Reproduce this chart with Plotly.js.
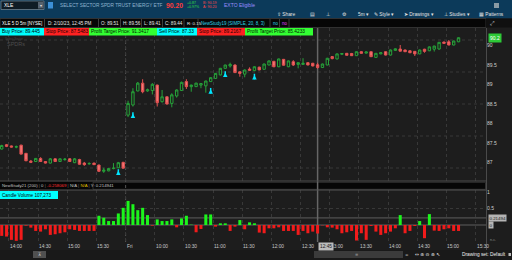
<!DOCTYPE html>
<html><head><meta charset="utf-8">
<script src="https://cdn.plot.ly/plotly-3.0.1.min.js"></script>
<style>html,body{margin:0;padding:0;background:#1d1d1d;overflow:hidden}#chart{width:512px;height:260px}</style>
</head><body><div id="chart"></div>
<script>
// ---- data (5-minute bars, Thu 13:50 -> Fri 15:10) ----
const barOpen = [87.35,87.46,87.43,87.40,87.45,87.24,87.04,87.03,87.11,87.03,86.99,87.10,87.03,87.08,87.10,87.00,87.08,86.99,86.97,86.99,86.94,86.78,86.79,86.85,86.87,87.01,
88.22,88.48,88.84,89.04,88.84,88.85,88.99,88.565,88.69,88.52,88.71,88.85,89.08,88.95,88.95,88.99,88.97,89.08,89.16,89.25,89.42,89.48,89.505,89.33,89.27,89.40,89.36,89.45,89.395,89.505,89.60,89.46,89.65,89.46,89.59,89.52,89.52,89.565,89.55,89.51,89.44,89.505,89.72,89.66,89.78,89.805,89.80,89.744,89.846,89.81,89.846,89.70,89.79,89.846,89.76,89.88,89.915,89.89,89.87,89.855,89.79,89.91,89.87,89.91,89.915,90.095,90.10,90.018,90.10];
const barHigh = [87.46,87.48,87.44,87.44,87.46,87.25,87.07,87.12,87.14,87.04,87.12,87.11,87.11,87.12,87.12,87.12,87.10,87.02,87.01,87.00,86.95,86.87,86.86,86.99,87.02,87.02,
88.59,88.91,89.07,89.14,88.90,89.04,89.00,88.865,88.70,88.78,88.88,89.08,89.14,89.00,89.05,89.04,89.10,89.19,89.30,89.43,89.51,89.565,89.52,89.34,89.39,89.445,89.47,89.46,89.54,89.62,89.61,89.67,89.66,89.62,89.63,89.57,89.68,89.57,89.56,89.56,89.54,89.69,89.735,89.80,89.81,89.81,89.815,89.85,89.86,89.85,89.85,89.81,89.83,89.85,89.90,89.93,90.018,89.90,89.88,89.86,89.90,89.92,89.98,90.00,90.09,90.10,90.146,90.13,90.21];
const barLow = [87.34,87.40,87.39,87.37,87.21,87.04,86.99,87.02,87.02,86.98,86.98,87.02,87.02,87.05,87.02,86.99,86.95,86.92,86.95,86.94,86.76,86.74,86.78,86.83,86.86,86.85,
88.17,88.44,88.83,88.78,88.82,88.75,88.44,88.54,88.49,88.42,88.67,88.84,88.89,88.82,88.94,88.91,88.795,89.07,89.15,89.24,89.41,89.44,89.30,89.205,89.19,89.35,89.35,89.37,89.39,89.50,89.45,89.45,89.49,89.45,89.48,89.42,89.51,89.50,89.47,89.41,89.43,89.50,89.65,89.65,89.76,89.75,89.74,89.74,89.80,89.80,89.71,89.69,89.78,89.75,89.75,89.87,89.855,89.84,89.81,89.736,89.78,89.82,89.86,89.85,89.90,90.05,90.01,90.01,90.09];
const barClose = [87.44,87.42,87.40,87.41,87.22,87.05,87.01,87.11,87.03,86.99,87.10,87.03,87.10,87.09,87.03,87.10,86.96,86.95,86.98,86.95,86.78,86.81,86.85,86.86,87.00,86.86,
88.52,88.82,89.04,88.82,88.87,89.01,88.54,88.69,88.505,88.74,88.865,89.06,88.95,88.99,89.04,89.03,89.095,89.18,89.29,89.42,89.505,89.52,89.31,89.29,89.377,89.37,89.46,89.38,89.53,89.61,89.46,89.66,89.50,89.61,89.505,89.565,89.55,89.505,89.48,89.44,89.53,89.677,89.67,89.79,89.80,89.754,89.744,89.846,89.805,89.84,89.718,89.805,89.82,89.76,89.89,89.92,89.86,89.846,89.82,89.79,89.89,89.855,89.97,89.99,90.087,90.06,90.018,90.12,90.205];
const studyValues = [-0.33,-0.35,-0.45,-0.48,-0.45,-0.02,-0.08,-0.18,-0.20,-0.13,-0.30,-0.28,-0.25,-0.22,-0.13,-0.15,-0.18,-0.18,-0.18,-0.18,
0.28,0.22,0.12,0.12,0.35,0.52,0.73,0.63,0.45,0.52,0.30,-0.02,0.17,0.12,0.12,0.17,-0.07,0.20,0.28,0.01,
-0.22,-0.12,0.32,0.32,-0.05,0.05,0.05,-0.18,-0.05,0.15,-0.13,0.08,0.05,-0.23,-0.25,-0.10,-0.10,-0.07,-0.18,-0.18,
-0.18,-0.30,-0.18,-0.25,-0.20,-0.258069,-0.01,-0.07,-0.08,-0.13,-0.25,-0.22,-0.18,-0.47,-0.25,-0.45,-0.03,-0.20,-0.30,-0.25,
-0.20,-0.10,0.30,-0.25,-0.18,-0.03,0.12,-0.40,0.33,-0.17,-0.18,-0.13,-0.10,-0.18,-0.18];
const studyLevel = 0.214941;
const signalBars = [24,27,43,46,52];
const signalPrice = [86.80,88.26,88.885,89.313,89.249];
const timeTickBars = [2,8,14,20,26,32,38,44,50,56,62,68,74,80,86,92,98];
const timeTickLabels = ['14:00','14:30','15:00','15:30','Fri','10:00','10:30','11:00','11:30','12:00','12:30','13:00','13:30','14:00','14:30','15:00','15:30'];
const priceTicks = [87,87.5,88,88.5,89,89.5,90];
const priceTickLabels = ['87','87.5','88','88.5','89','89.5','90'];
const studyTicks = [0.5,1];
const studyTickLabels = ['0.5','1'];
const sessionBreakBar = 26;
const cursorBar = 65;
const cursorLabel = '12:45';

// ---- layout helpers ----
const W = 512, H = 260;
const F = "'Liberation Sans', Arial, sans-serif";
const FS = "'DejaVu Sans', sans-serif";
const idx = barClose.map((_, i) => i);
const A = [], S = [];
function T(x, y, s, size, color, extra) {
  A.push(Object.assign({xref:'paper', yref:'paper', x:x/W, y:1-y/H, text:s, showarrow:false,
    xanchor:'left', yanchor:'middle', borderpad:0, font:{family:F, size:size, color:color}}, extra || {}));
}
function R(x0, y0, x1, y1, fill, line, layer) {
  S.push({type:'rect', xref:'paper', yref:'paper', x0:x0/W, x1:x1/W, y0:1-y0/H, y1:1-y1/H,
    fillcolor:fill, line:{width:line ? 0.8 : 0, color:line || fill}, layer:layer || 'above'});
}
function L(x0, y0, x1, y1, color, w, dash, layer) {
  S.push({type:'line', xref:'paper', yref:'paper', x0:x0/W, x1:x1/W, y0:1-y0/H, y1:1-y1/H,
    line:{color:color, width:w || 1, dash:dash || 'solid'}, layer:layer || 'above'});
}
const small = 4.6;

// header (blue)
R(0, 0, 512, 18.5, '#0c3a5a', null, 'below');
R(1, 1, 44, 9.5, '#0f1c26', '#6d7f8c');
T(3, 5.3, 'XLE', 5, '#ffffff');
R(38, 2, 43.5, 8.5, '#56626e');
T(38.6, 5.3, '▾', 4, '#e0e0e0', {font:{family:FS, size:4, color:'#e0e0e0'}});
R(48, 2, 53, 8.5, '#3c8fd6');
T(59, 5.3, 'SELECT SECTOR SPDR TRUST ENERGY ETF', 4.75, '#8fb3cf');
T(165, 5.5, '<b>90.20</b>', 6.8, '#ff3b3b');
T(185.5, 3.2, '+0.87', 3.6, '#33dd44');
T(185.5, 7.4, '+0.97%', 3.6, '#33dd44');
T(201.5, 3.2, 'B: 90.19', 3.6, '#ff4848');
T(201.5, 7.4, 'A: 90.20', 3.6, '#ff4848');
T(223, 5.3, 'EXTO Eligible', 5, '#9b8dff');
R(494, 3, 499, 8, '#8a9aa4');
// toolbar
const tb = [[276,'⇪ Share'],[309,'▤'],[325,'⊥'],[341,'⚙'],[357,'5m ▾'],[373,'✎ Style ▾'],[403,'➤ Drawings ▾'],[443,'⊥ Studies ▾'],[478,'▦ Patterns']];
tb.forEach(t => T(t[0], 14.4, t[1], 4.8, '#e4e4e4'));

// info row
R(0, 18.5, 486, 27.5, '#060606', '#3a3a3a', 'below');
R(486, 18.5, 512, 27.5, '#101010', null, 'below');
T(489, 23, '⤢', 5.5, '#dddddd', {font:{family:FS, size:5.5, color:'#dddddd'}});
T(1, 23, 'XLE 5 D 5m [NYSE]', 4.5, '#ffffff');
[44.5, 98.5, 120.5, 141.5, 162.5, 184, 198].forEach(x => L(x, 19, x, 27, '#4a4a4a', 0.8));
const c = cursorBar;
T(47, 23, 'D: 2/10/23, 12:45 PM', small, '#e6e6e6');
T(100, 23, 'O: ' + barOpen[c].toFixed(2), small, '#e6e6e6');
T(122, 23, 'H: ' + barHigh[c].toFixed(2), small, '#e6e6e6');
T(143, 23, 'L: ' + barLow[c].toFixed(2), small, '#e6e6e6');
T(164, 23, 'C: ' + barClose[c].toFixed(2), small, '#e6e6e6');
T(185.5, 23, 'R: ' + (barHigh[c] - barLow[c]).toFixed(2), 4.4, '#e6e6e6');
T(199.5, 23, 'NewStudy19 (SIMPLE, 20, 8, 3)', 4.5, '#2bd4e6');
T(271.5, 23, 'no', 4.5, '#2bd4e6');
T(281, 23, 'no', 4.5, '#e040fb');
L(270, 19, 270, 27, '#4a4a4a', 0.8); L(279.5, 19, 279.5, 27, '#4a4a4a', 0.8); L(289, 19, 289, 27, '#4a4a4a', 0.8);

// label row
const boxes = [[0,44,'#00ffff','Buy Price: 89.445','#000'],[44,89,'#ff2222','Stop Price: 87.5483','#200000'],
  [89,157,'#33ff33','Profit Target Price: 91.3417','#002000'],[157,197,'#00ffff','Sell Price: 87.33','#000'],
  [197,245,'#ff2222','Stop Price: 89.2167','#200000'],[245,313,'#33ff33','Profit Target Price: 85.4233','#002000']];
boxes.forEach(b => { R(b[0], 28, b[1], 35.5, b[2]); T(b[0] + 1, 31.8, b[3], 4.8, b[4]); });

// watermark
T(4, 38.6, 'Select Sector', 3, '#4a4a4a');
T(6, 44, 'SPDRs', 5.5, '#4d4d4d');

// horizontal dashed grid (main)
[40, 72, 104, 136, 168].forEach(y => L(0, y, 486, y, '#383838', 1, 'dot', 'below'));

// panel borders
L(0, 181, 486, 181, '#4a4a4a', 1);
R(0, 181.5, 486, 190, '#060606', null, 'below');
R(93, 182.3, 485.5, 189.3, 'rgba(0,0,0,0)', '#3a3a3a', 'below');
L(0, 190, 486, 190, '#555555', 1);
L(486.5, 28, 486.5, 250, '#4a4a4a', 1);

// lower header (single line with coloured parts)
T(1, 185.8, 'NewStudy21 (200) <span style="color:#777">|</span> 0 <span style="color:#777">|</span> <span style="color:#ff3030">' +
  studyValues[c].toFixed(6) + '</span> <span style="color:#777">|</span> N/A <span style="color:#777">|</span> <span style="color:#e0c000">N/A</span> <span style="color:#777">|</span> Y: ' +
  studyLevel.toFixed(6), 4.3, '#c4c4c4');
R(0, 191, 58, 199, '#00ffff');
T(1, 195, 'Candle Volume 107,273', 4.6, '#000000');

// lower panel lines
S.push({type:'line', xref:'paper', yref:'y2', x0:0, x1:486/W, y0:0, y1:0, line:{color:'#5e5e5e', width:1}, layer:'below'});
S.push({type:'line', xref:'paper', yref:'y2', x0:0, x1:486/W, y0:studyLevel, y1:studyLevel, line:{color:'#5e5e5e', width:1}, layer:'below'});
S.push({type:'line', xref:'paper', yref:'y2', x0:0, x1:486/W, y0:0.5, y1:0.5, line:{color:'#383838', width:1, dash:'dot'}, layer:'below'});
A.push({xref:'paper', yref:'y2', x:487.5/W, y:studyLevel, text:studyLevel.toFixed(5), showarrow:false, xanchor:'left', yanchor:'middle',
  bgcolor:'#b4b4b4', borderpad:0.5, font:{family:F, size:4.4, color:'#1a1a1a'}});
A.push({xref:'paper', yref:'y2', x:487.5/W, y:0, text:'0', showarrow:false, xanchor:'left', yanchor:'middle',
  bgcolor:'#b4b4b4', borderpad:0.5, font:{family:F, size:4.4, color:'#1a1a1a'}});
T(489, 240, 'n.c.', 3.8, '#8a8a8a');

// session break & cursor
S.push({type:'line', xref:'x', yref:'paper', x0:sessionBreakBar - 0.5, x1:sessionBreakBar - 0.5, y0:1-242/H, y1:1-28/H, line:{color:'#555555', width:1, dash:'dot'}, layer:'below'});
S.push({type:'line', xref:'x', yref:'paper', x0:cursorBar, x1:cursorBar, y0:1-242/H, y1:1-28/H, line:{color:'#666666', width:1.5}, layer:'below'});

// last price label
A.push({xref:'paper', yref:'y', x:487.5/W, y:barClose[barClose.length-1], text:barClose[barClose.length-1].toFixed(1),
  showarrow:false, xanchor:'left', yanchor:'middle', bgcolor:'#2dc937', borderpad:1, font:{family:F, size:5, color:'#ffffff'}});

// time labels
timeTickBars.forEach((b, i) => A.push({xref:'x', yref:'paper', x:b - 0.5, y:1-246/H, text:timeTickLabels[i], showarrow:false,
  xanchor:'left', yanchor:'middle', borderpad:0, font:{family:F, size:4.8, color:'#c8c8c8'}}));
A.push({xref:'x', yref:'paper', x:cursorBar, y:1-246/H, text:cursorLabel, showarrow:false, xanchor:'left', yanchor:'middle',
  bgcolor:'#bcbcbc', borderpad:1, font:{family:F, size:4.8, color:'#1a1a1a'}});

// bottom bar
R(0, 250, 512, 260, '#191919', null, 'below');
R(33, 251, 46, 258, '#505050');
T(36.5, 254.5, '⊼', 4.5, '#dddddd', {font:{family:FS, size:4.5, color:'#dddddd'}});
R(314, 251, 403, 258, '#3b3b3b');
T(354, 254.5, '≡', 4, '#8a8a8a', {font:{family:FS, size:4, color:'#8a8a8a'}});
T(404, 254.5, '◂▸', 3.5, '#999999', {font:{family:FS, size:3.5, color:'#999999'}});
T(414, 254.5, '↔ ⊕ ⊖ ⊕ ↖', 4.6, '#eeeeee', {font:{family:FS, size:4.6, color:'#eeeeee'}});
T(461, 254.5, 'Drawing set: Default', 4.8, '#f0f0f0');
R(508.5, 253, 511, 256, '#bbbbbb');

const gridVals = timeTickBars.map(b => b - 0.5);
const xBase = {domain:[0, 486/W], range:[-0.35, 99.65], tickvals:gridVals, showticklabels:false, ticks:'',
  showgrid:true, gridcolor:'#383838', griddash:'dot', gridwidth:1, zeroline:false, showline:false, fixedrange:true};

const traces = [
  {type:'candlestick', x:idx, open:barOpen, high:barHigh, low:barLow, close:barClose, xaxis:'x', yaxis:'y',
   increasing:{line:{color:'#27a23a', width:1}, fillcolor:'#1d1d1d'},
   decreasing:{line:{color:'#e05050', width:1}, fillcolor:'#f57878'},
   whiskerwidth:0, hoverinfo:'skip'},
  {type:'scatter', mode:'markers', x:signalBars, y:signalPrice, xaxis:'x', yaxis:'y',
   marker:{symbol:'arrow-up', size:4.5, color:'#00e5ff', line:{width:0}}, hoverinfo:'skip'},
  {type:'scatter', mode:'markers', x:signalBars, y:signalPrice.map(v => v - 0.04), xaxis:'x', yaxis:'y',
   marker:{symbol:'line-ns', size:4, color:'#00e5ff', line:{width:1.5, color:'#00e5ff'}}, hoverinfo:'skip'},
  {type:'bar', x:idx, y:studyValues, xaxis:'x2', yaxis:'y2', width:0.62,
   marker:{color:studyValues.map(v => v >= 0 ? '#1cf51c' : '#f21b1b'), line:{width:0}}, hoverinfo:'skip'}
];

const layout = {
  width:W, height:H, margin:{l:0, r:0, t:0, b:0, pad:0},
  paper_bgcolor:'#1d1d1d', plot_bgcolor:'rgba(0,0,0,0)', showlegend:false,
  font:{family:F, size:5, color:'#cccccc'},
  xaxis:Object.assign({}, xBase, {anchor:'y', rangeslider:{visible:false}}),
  xaxis2:Object.assign({}, xBase, {anchor:'y2', matches:'x'}),
  yaxis:{domain:[1-181/H, 1-28/H], range:[91.1718-181/39, 91.1718-28/39], side:'right', anchor:'x',
    tickvals:priceTicks, ticktext:priceTickLabels, showgrid:false, zeroline:false, ticks:'', showline:false,
    tickfont:{family:F, size:5, color:'#cfcfcf'}, fixedrange:true},
  yaxis2:{domain:[1-242/H, 1-190/H], range:[-17/33, 35/33], side:'right', anchor:'x2',
    tickvals:studyTicks, ticktext:studyTickLabels, showgrid:false, zeroline:false, ticks:'', showline:false,
    tickfont:{family:F, size:5, color:'#cfcfcf'}, fixedrange:true},
  shapes:S, annotations:A
};
Plotly.newPlot('chart', traces, layout, {staticPlot:true, displayModeBar:false});
</script></body></html>
